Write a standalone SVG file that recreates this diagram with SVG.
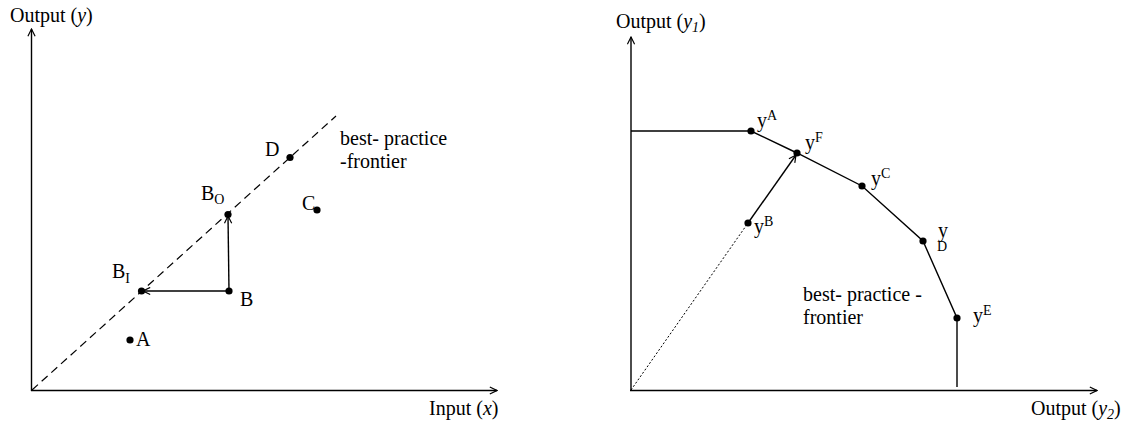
<svg xmlns="http://www.w3.org/2000/svg" width="1126" height="421" viewBox="0 0 1126 421">
<style>
text{font-family:'Liberation Serif','DejaVu Serif',serif;font-size:20px;fill:#000}
.sup{font-size:14px}
.ax{stroke:#000;stroke-width:1.4;fill:none}
.ln{stroke:#000;stroke-width:1.4;fill:none}
.dash{stroke:#000;stroke-width:1.2;fill:none;stroke-dasharray:8 5}
.dot{stroke:#000;stroke-width:1;fill:none;stroke-dasharray:2 2}
.pt{fill:#000}
</style>
<defs>
<marker id="ah" viewBox="0 0 10 10" refX="9" refY="5" markerWidth="9" markerHeight="9" markerUnits="userSpaceOnUse" orient="auto">
<path d="M1,1 L9,5 L1,9" fill="none" stroke="#000" stroke-width="1.3"/>
</marker>
</defs>
<g id="left-axes" font-family="Liberation Serif, serif">
<line class="ax" x1="31.5" y1="391" x2="31.5" y2="29" marker-end="url(#ah)"/>
<line class="ax" x1="31" y1="390.5" x2="497" y2="390.5" marker-end="url(#ah)"/>
<text x="10" y="22">Output (<tspan font-style="italic">y</tspan>)</text>
<text x="429" y="415">Input (<tspan font-style="italic">x</tspan>)</text>
</g>
<g id="connectors">
<line class="dash" x1="32" y1="390" x2="336" y2="116"/>
<line class="ln" x1="229" y1="291" x2="143" y2="291" marker-end="url(#ah)"/>
<line class="ln" x1="229" y1="291" x2="228" y2="216" marker-end="url(#ah)"/>
<polyline class="ln" points="631,131 751,131 797,153 862,186 923,241 957,318 957,387"/>
<line class="dot" x1="631" y1="390" x2="748" y2="223"/>
<line class="ln" x1="748" y1="223" x2="796" y2="155" marker-end="url(#ah)"/>
</g>
<g id="left-frontier-label">
<text x="340" y="145">best- practice</text>
<text x="340" y="168">-frontier</text>
</g>
<g id="node-D"><circle class="pt" cx="290" cy="157.5" r="3.6"/><text x="265" y="156">D</text></g>
<g id="node-BO"><circle class="pt" cx="228" cy="214.5" r="3.6"/><text x="201" y="200">B<tspan class="sup" dy="4">O</tspan></text></g>
<g id="node-BI"><circle class="pt" cx="141.5" cy="291" r="3.6"/><text x="112" y="278">B<tspan class="sup" dy="5">I</tspan></text></g>
<g id="node-B"><circle class="pt" cx="229" cy="291" r="3.6"/><text x="240" y="306">B</text></g>
<g id="node-C"><circle class="pt" cx="317" cy="210" r="3.6"/><text x="302" y="210">C</text></g>
<g id="node-A"><circle class="pt" cx="130" cy="340" r="3.6"/><text x="136" y="346">A</text></g>
<g id="right-axes">
<line class="ax" x1="631" y1="391" x2="631" y2="37" marker-end="url(#ah)"/>
<line class="ax" x1="630" y1="390.5" x2="1097" y2="390.5" marker-end="url(#ah)"/>
<text x="616" y="28">Output (<tspan font-style="italic">y<tspan class="sup" dy="4">1</tspan></tspan><tspan dy="-4">)</tspan></text>
<text x="1031" y="415">Output (<tspan font-style="italic">y<tspan class="sup" dy="4">2</tspan></tspan><tspan dy="-4">)</tspan></text>
</g>
<g id="node-yA"><circle class="pt" cx="751" cy="131" r="3.6"/><text x="757" y="127">y<tspan class="sup" dy="-7">A</tspan></text></g>
<g id="node-yF"><circle class="pt" cx="797" cy="153" r="3.6"/><text x="805" y="149">y<tspan class="sup" dy="-7">F</tspan></text></g>
<g id="node-yC"><circle class="pt" cx="862" cy="186" r="3.6"/><text x="871" y="185">y<tspan class="sup" dy="-7">C</tspan></text></g>
<g id="node-yD"><circle class="pt" cx="923" cy="241" r="3.6"/><text x="938" y="237">y</text><text class="sup" x="937" y="251">D</text></g>
<g id="node-yB"><circle class="pt" cx="748" cy="223" r="3.6"/><text x="754" y="233">y<tspan class="sup" dy="-7">B</tspan></text></g>
<g id="node-yE"><circle class="pt" cx="957" cy="318" r="3.6"/><text x="973" y="322">y<tspan class="sup" dy="-7">E</tspan></text></g>
<g id="right-frontier-label">
<text x="803" y="301">best- practice -</text>
<text x="803" y="324">frontier</text>
</g>
</svg>
